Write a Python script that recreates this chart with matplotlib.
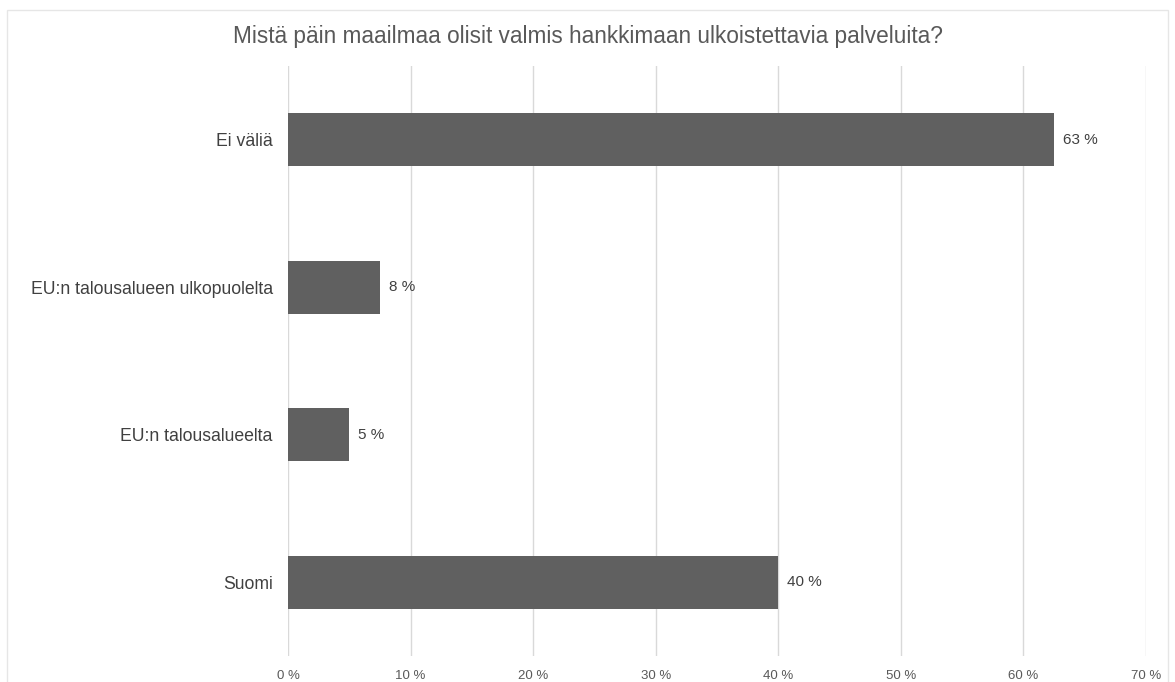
import matplotlib.pyplot as plt
from matplotlib.patches import Rectangle

# Data
categories = ['Suomi', 'EU:n talousalueelta', 'EU:n talousalueen ulkopuolelta', 'Ei väliä']
values = [40.0, 5.0, 7.5, 62.5]
value_labels = ['40 %', '5 %', '8 %', '63 %']
xticks = [0, 10, 20, 30, 40, 50, 60, 70]
xtick_labels = ['0 %', '10 %', '20 %', '30 %', '40 %', '50 %', '60 %', '70 %']
title = 'Mistä päin maailmaa olisit valmis hankkimaan ulkoistettavia palveluita?'

plt.rcParams['font.family'] = ['Liberation Sans', 'DejaVu Sans']

fig = plt.figure(figsize=(11.75, 6.82), dpi=100)
ax = fig.add_axes([0.2451, 0.0381, 0.7302, 0.8651])

# Rahmen um die Grafik
fig.patches.append(Rectangle((7 / 1175, -0.05), 1161 / 1175, 1.05 - 10 / 682,
                             transform=fig.transFigure, fill=False,
                             edgecolor='#e6e6e6', linewidth=1))

y = range(len(categories))
ax.barh(y, values, height=0.36, color='#606060', zorder=3)

for yi, v, lab in zip(y, values, value_labels):
    ax.text(v + 0.75, yi, lab, va='center', ha='left', fontsize=11, color='#404040')

ax.set_xlim(0, 70)
ax.set_ylim(-0.5, 3.5)
ax.set_xticks(xticks)
ax.set_xticklabels(xtick_labels)
ax.set_yticks(list(y))
ax.set_yticklabels(categories)

ax.grid(axis='x', color='#d9d9d9', linewidth=1, zorder=0)
for s in ax.spines.values():
    s.set_visible(False)
ax.tick_params(axis='x', length=0, labelsize=9.5, labelcolor='#595959', pad=10)
ax.tick_params(axis='y', length=0, labelsize=12.7, labelcolor='#404040', pad=11)

fig.text(0.5, 1 - 37 / 682, title, ha='center', va='center', fontsize=16.3, color='#595959')

fig.savefig('out.png', dpi=100)
